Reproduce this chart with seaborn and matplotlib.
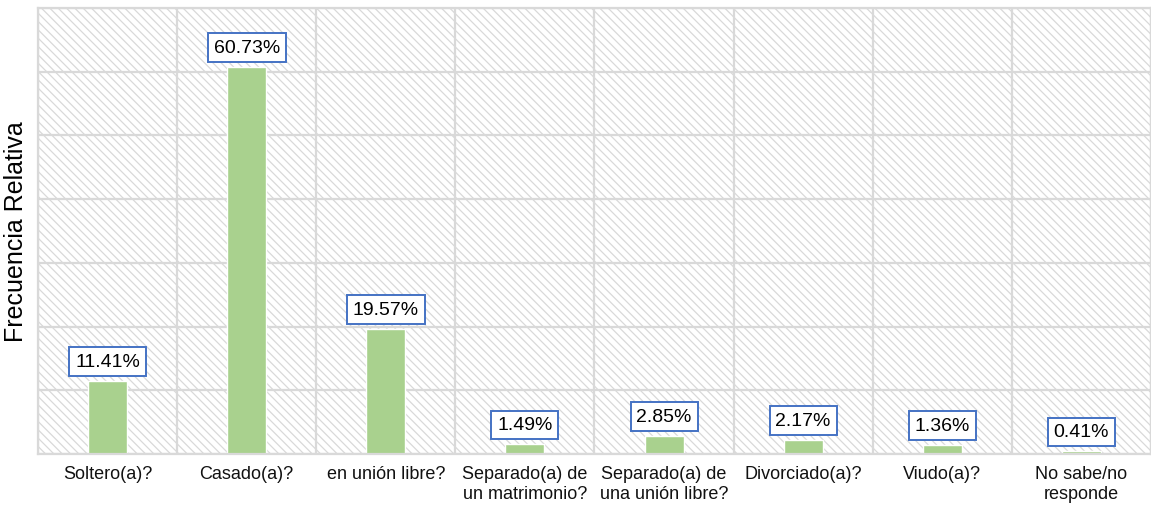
import numpy as np
import pandas as pd
import matplotlib.pyplot as plt
import seaborn as sns
from matplotlib.patches import Rectangle

categorias = ['Soltero(a)?', 'Casado(a)?', 'en unión libre?', 'Separado(a) de\nun matrimonio?',
              'Separado(a) de\nuna unión libre?', 'Divorciado(a)?', 'Viudo(a)?', 'No sabe/no\nresponde']
frecuencia = [11.41, 60.73, 19.57, 1.49, 2.85, 2.17, 1.36, 0.41]

df = pd.DataFrame({'categoria': categorias, 'frecuencia': frecuencia})

sns.set_style('white')
plt.rcParams['font.family'] = ['Liberation Sans', 'DejaVu Sans']
plt.rcParams['hatch.linewidth'] = 0.9
plt.rcParams['text.color'] = 'black'
plt.rcParams['axes.labelcolor'] = 'black'
plt.rcParams['xtick.color'] = 'black'

fig = plt.figure(figsize=(11.51, 5.06), dpi=100)
ax = fig.add_axes([0.033, 0.101, 0.967, 0.881])

# fondo rayado
ax.add_patch(Rectangle((0, 0), 1, 1, transform=ax.transAxes, facecolor='white',
                       edgecolor='#d9d9d9', hatch='\\\\\\\\', lw=0, zorder=0))

sns.barplot(data=df, x='categoria', y='frecuencia', color='#a9d18e', width=0.28,
            saturation=1, ax=ax, zorder=2)

ax.set_xlim(-0.5, len(categorias) - 0.5)
ax.set_ylim(0, 70)
ax.set_yticks(np.arange(0, 71, 10))
ax.set_yticklabels([])
ax.set_xticks(np.arange(-0.5, len(categorias), 1), minor=True)
ax.set_axisbelow(True)
ax.grid(axis='y', which='major', color='#d9d9d9', lw=1.6)
ax.grid(axis='x', which='minor', color='#d9d9d9', lw=1.6)
ax.grid(axis='x', which='major', visible=False)
ax.tick_params(axis='both', which='both', length=0)
ax.tick_params(axis='x', labelsize=13, pad=8, labelcolor='#111111')
for s in ax.spines.values():
    s.set_color('#d9d9d9')
    s.set_linewidth(1.6)

ax.set_xlabel('')
ax.set_ylabel('Frecuencia Relativa', fontsize=18, labelpad=4, color='black')

for i, v in enumerate(frecuencia):
    ax.annotate(f'{v:.2f}%', (i, v), xytext=(0, 14), textcoords='offset points',
                ha='center', va='center', fontsize=14, zorder=5, color='black',
                bbox=dict(boxstyle='square,pad=0.3', fc='white', ec='#4472c4', lw=1.4))

plt.savefig('out.png', dpi=100)
